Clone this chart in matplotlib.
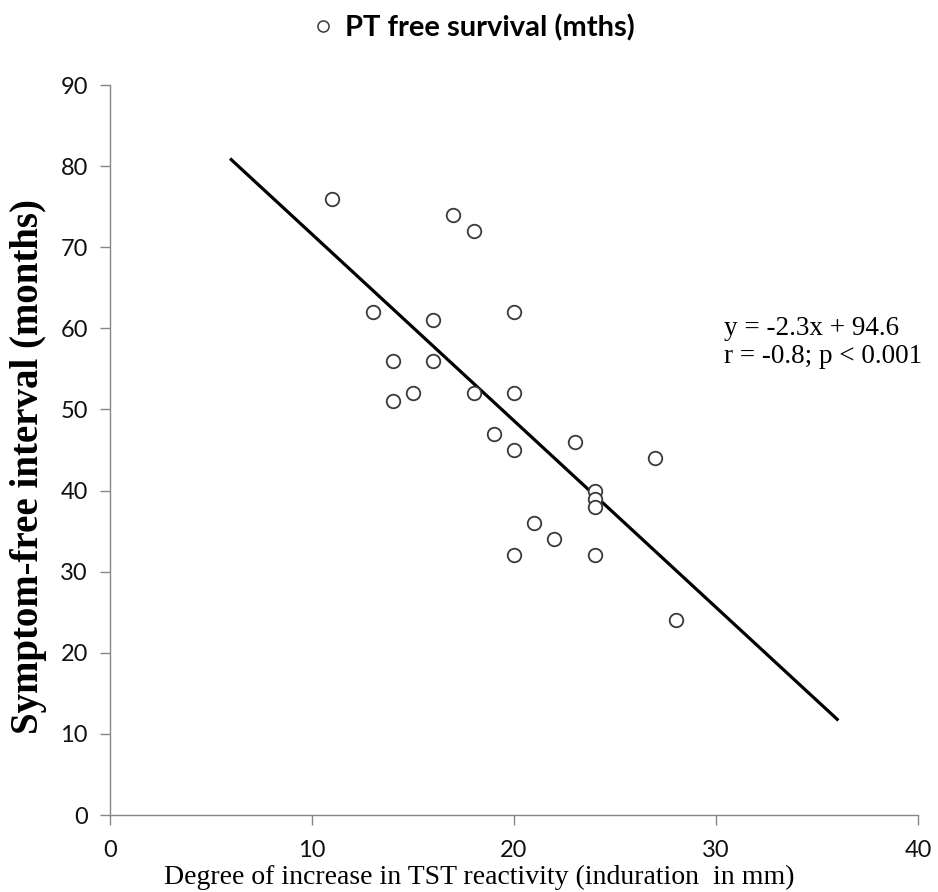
"""
TST reactivity vs symptom-free interval scatter with linear fit.
"""
import matplotlib.pyplot as plt
from matplotlib.lines import Line2D

# induration increase (mm) and symptom-free interval (months)
tst_increase = [11, 13, 14, 14, 15, 16, 16, 17, 18, 18, 19, 20,
                20, 20, 20, 21, 22, 23, 24, 24, 24, 24, 27, 28]
symptom_free = [76, 62, 56, 51, 52, 61, 56, 74, 72, 52, 47, 62,
                52, 45, 32, 36, 34, 46, 40, 39, 38, 32, 44, 24]

# regression line
fit_slope = -2.3
fit_intercept = 94.6
fit_x = [6, 36]

x_ticks = [0, 10, 20, 30, 40]
y_ticks = [0, 10, 20, 30, 40, 50, 60, 70, 80, 90]

grey = '#868686'
serif = 'Liberation Serif'
sans = 'Lato'

fig = plt.figure(figsize=(9.38, 8.92), dpi=100)
ax = fig.add_axes([0.1173, 0.0863, 0.8614, 0.8184])

ax.scatter(tst_increase, symptom_free, s=95, facecolors='white',
           edgecolors='#3a3a3a', linewidths=1.3, zorder=3)

fit_y = [fit_slope * xv + fit_intercept for xv in fit_x]
ax.plot(fit_x, fit_y, color='black', lw=2.3, zorder=2)

ax.set_xlim(0, 40)
ax.set_ylim(0, 90)
ax.set_xticks(x_ticks)
ax.set_yticks(y_ticks)

for side in ('top', 'right'):
    ax.spines[side].set_visible(False)
for side in ('left', 'bottom'):
    ax.spines[side].set_color(grey)
    ax.spines[side].set_linewidth(1.0)

ax.tick_params(axis='both', colors=grey, length=7, width=1.0,
               labelcolor='#111111', labelsize=17)
ax.tick_params(axis='x', pad=11)
ax.tick_params(axis='y', pad=9)
for lbl in ax.get_xticklabels() + ax.get_yticklabels():
    lbl.set_fontfamily(sans)

ax.set_xlabel('Degree of increase in TST reactivity (induration  in mm)',
              family=serif, fontsize=20)
ax.xaxis.set_label_coords(0.457, -0.068)
ax.set_ylabel('Symptom-free interval (months)', family=serif,
              fontsize=28, fontweight='bold')
ax.yaxis.set_label_coords(-0.078, 0.477)

ax.text(30.4, 60.0, 'y = -2.3x + 94.6', family=serif, fontsize=19.5,
        va='center', ha='left')
ax.text(30.4, 56.5, 'r = -0.8; p < 0.001', family=serif, fontsize=19.5,
        va='center', ha='left')

handle = Line2D([], [], ls='none', marker='o', markersize=8,
                markerfacecolor='white', markeredgecolor='#3a3a3a',
                markeredgewidth=1.1)
fig.legend([handle], ['PT free survival (mths)'], loc='center',
           bbox_to_anchor=(0.503, 0.969), frameon=False, handlelength=1.0,
           handletextpad=0.25,
           prop={'family': sans, 'weight': 'bold', 'size': 21})

plt.savefig('out.png', dpi=100)
